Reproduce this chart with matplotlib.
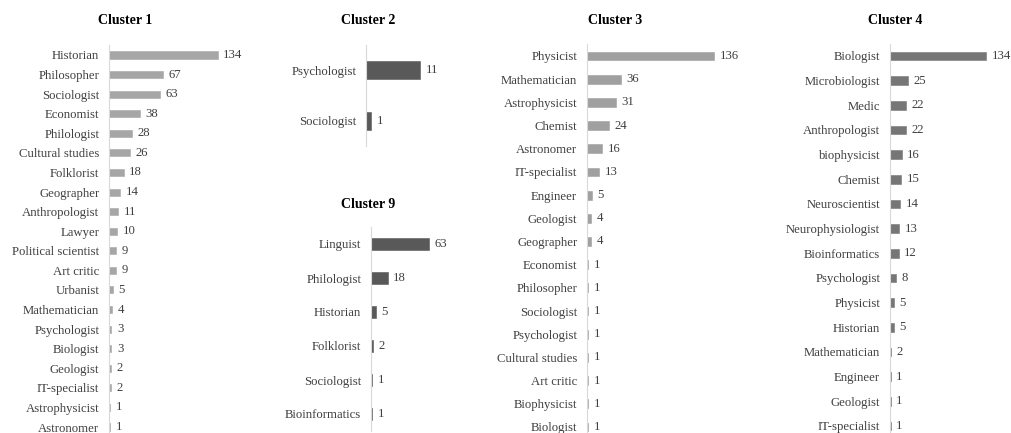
import matplotlib.pyplot as plt

W, H = 1011, 433

# данные по кластерам
c1_labels = ['Historian', 'Philosopher', 'Sociologist', 'Economist', 'Philologist',
             'Cultural studies', 'Folklorist', 'Geographer', 'Anthropologist', 'Lawyer',
             'Political scientist', 'Art critic', 'Urbanist', 'Mathematician',
             'Psychologist', 'Biologist', 'Geologist', 'IT-specialist',
             'Astrophysicist', 'Astronomer']
c1_values = [134, 67, 63, 38, 28, 26, 18, 14, 11, 10, 9, 9, 5, 4, 3, 3, 2, 2, 1, 1]

c2_labels = ['Psychologist', 'Sociologist']
c2_values = [11, 1]

c9_labels = ['Linguist', 'Philologist', 'Historian', 'Folklorist', 'Sociologist',
             'Bioinformatics']
c9_values = [63, 18, 5, 2, 1, 1]

c3_labels = ['Physicist', 'Mathematician', 'Astrophysicist', 'Chemist', 'Astronomer',
             'IT-specialist', 'Engineer', 'Geologist', 'Geographer', 'Economist',
             'Philosopher', 'Sociologist', 'Psychologist', 'Cultural studies',
             'Art critic', 'Biophysicist', 'Biologist']
c3_values = [136, 36, 31, 24, 16, 13, 5, 4, 4, 1, 1, 1, 1, 1, 1, 1, 1]

c4_labels = ['Biologist', 'Microbiologist', 'Medic', 'Anthropologist', 'biophysicist',
             'Chemist', 'Neuroscientist', 'Neurophysiologist', 'Bioinformatics',
             'Psychologist', 'Physicist', 'Historian', 'Mathematician', 'Engineer',
             'Geologist', 'IT-specialist']
c4_values = [134, 25, 22, 22, 16, 15, 14, 13, 12, 8, 5, 5, 2, 1, 1, 1]

plt.rcParams['font.family'] = ['Liberation Serif', 'DejaVu Serif']

fig = plt.figure(figsize=(W / 100, H / 100), dpi=100)


def panel(title, labels, values, color, x0, y_first, y_last, px_per_unit, xmax,
          title_x, title_y, height=0.36):
    n = len(labels)
    step = (y_last - y_first) / (n - 1)
    top = y_first - step / 2
    bottom = y_last + step / 2
    width = xmax * px_per_unit
    ax = fig.add_axes([x0 / W, 1 - bottom / H, width / W, (bottom - top) / H])
    pos = list(range(n))
    # тонкая обводка, чтобы столбики со значением 1 были видны
    ax.barh(pos, values, height=height, color=color, edgecolor=color, linewidth=0.4)
    ax.set_xlim(0, xmax)
    ax.set_ylim(n - 0.5, -0.5)
    ax.set_yticks(pos)
    ax.set_yticklabels(labels, fontsize=9.2, color='#404040')
    ax.tick_params(axis='y', length=0, pad=7)
    ax.set_xticks([])
    for s in ['top', 'right', 'bottom']:
        ax.spines[s].set_visible(False)
    ax.spines['left'].set_color('#d9d9d9')
    ax.patch.set_alpha(0)
    for p, v in zip(pos, values):
        ax.annotate(str(v), (v, p), xytext=(4, 0), textcoords='offset points',
                    va='center', ha='left', fontsize=9.2, color='#404040')
    fig.text(title_x / W, 1 - title_y / H, title, ha='center', va='center',
             fontsize=10, fontweight='bold', color='#000000')
    return ax


panel('Cluster 1', c1_labels, c1_values, '#a6a6a6', 109, 55, 427, 0.81, 150, 125, 20)
panel('Cluster 2', c2_labels, c2_values, '#595959', 366, 70, 120.7, 4.9, 14, 368, 20,
      height=0.35)
panel('Cluster 9', c9_labels, c9_values, '#595959', 371, 244, 414, 0.92, 75, 368, 205)
panel('Cluster 3', c3_labels, c3_values, '#a0a0a0', 587, 56, 427, 0.935, 150, 615, 21,
      height=0.38)
panel('Cluster 4', c4_labels, c4_values, '#767676', 890, 56, 426, 0.72, 150, 895, 21)

fig.savefig('out.png', dpi=100)
